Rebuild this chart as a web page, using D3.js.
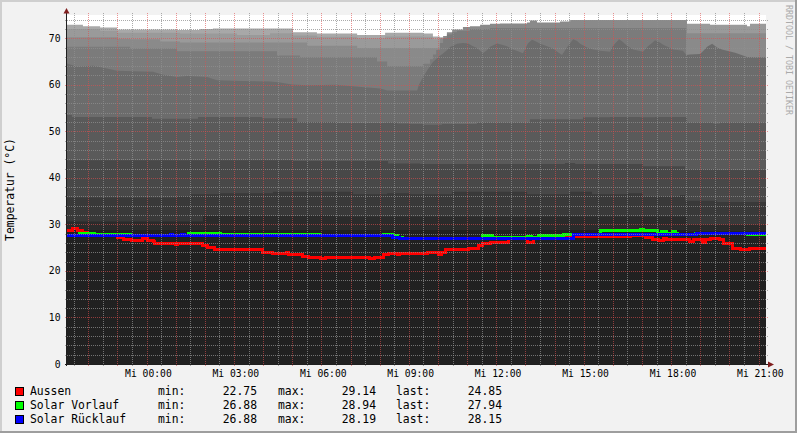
<!DOCTYPE html>
<html><head><meta charset="utf-8">
<script src="https://cdn.jsdelivr.net/npm/d3@7"></script>
<style>
body{margin:0;background:#f2f2f2;}
svg{display:block;}
text{font-family:"DejaVu Sans Mono",monospace;}
</style>
</head><body>
<svg id="chart" width="797" height="433"></svg>
<script>
// ---------- DATA (time in hours relative to Mi 00:00) ----------
const timeStart = -2.766, timeEnd = 21.22;
const xTickHours = [0, 3, 6, 9, 12, 15, 18, 21];
const xTickLabels = ["Mi 00:00","Mi 03:00","Mi 06:00","Mi 09:00","Mi 12:00","Mi 15:00","Mi 18:00","Mi 21:00"];
const yTicks = [0, 10, 20, 30, 40, 50, 60, 70];

const seriesNames = ["Aussen", "Solar Vorlauf", "Solar Rücklauf"];
const seriesColors = ["#ff0000", "#00ff00", "#0000ff"];
const seriesMin = ["22.75", "26.88", "26.88"];
const seriesMax = ["29.14", "28.94", "28.19"];
const seriesLast = ["24.85", "27.94", "28.15"];

const aussenHours = [-2.77,-2.59,-2.39,-2.22,-2.05,-1.02,-0.84,-0.54,-0.19,-0.02,0.19,0.25,0.94,1.04,1.90,2.07,2.31,2.73,3.10,3.51,3.93,4.30,4.78,4.82,5.33,5.51,5.92,6.09,6.50,7.29,7.63,7.80,8.08,8.25,8.56,8.66,9.11,9.62,9.97,10.10,10.21,10.62,11.00,11.34,11.48,11.75,12.03,12.37,13.05,13.23,13.81,14.39,15.53,16.56,17.07,17.34,17.52,17.69,17.82,18.61,18.72,19.03,19.13,19.30,19.64,19.75,20.06,20.33,20.67,21.22];
const aussenTemp  = [28.6,29.14,28.6,28.3,27.9,27.2,26.8,26.6,26.9,26.6,26.3,25.9,25.6,25.9,25.4,25.1,24.7,24.5,24.7,24.5,23.9,23.8,24.0,23.6,23.1,22.9,22.75,22.9,22.8,22.9,22.75,22.9,23.6,23.8,23.6,23.7,23.8,24.0,23.6,24.0,24.5,24.7,24.9,25.4,25.8,26.1,26.2,26.9,26.2,27.0,27.2,27.5,27.5,27.7,27.2,26.8,26.5,26.9,26.7,26.3,26.7,26.1,26.8,27.0,26.7,25.8,24.9,24.7,24.85,24.85];

const vorlaufHours = [-2.77,-2.32,-1.81,-0.60,1.39,2.31,2.49,5.92,8.08,8.42,8.56,8.76,9.18,9.52,9.93,10.72,11.48,11.85,12.78,13.05,13.19,13.40,14.26,15.53,16.21,16.90,17.00,17.17,17.48,17.65,17.82,18.00,18.10,18.20,18.79,20.57,21.22];
const vorlaufTemp  = [27.6,28.1,27.9,27.6,28.1,28.15,27.9,27.6,27.9,27.6,27.2,26.95,26.88,27.0,26.9,27.0,27.6,27.1,27.2,27.4,27.2,27.6,27.85,28.6,28.7,28.94,28.6,28.7,28.1,28.4,28.1,28.4,28.1,27.9,28.05,27.75,27.75];

const ruecklaufHours = [-2.77,0.77,0.87,1.18,1.28,8.42,8.66,8.94,11.30,12.44,14.60,18.85,21.22];
const ruecklaufTemp  = [27.6,27.8,27.6,27.8,27.6,27.2,26.95,26.88,26.95,27.0,27.75,28.15,28.15];

// background bands (top of each grey layer)
const band1Hours = [-2.77,18.51,21.22];
const band1Tops  = [28.8,28.5,28.5];
const band2Hours = [-2.77,1.90,5.47,6.43,18.51,21.22];
const band2Tops  = [30.6,31.8,31.9,31.7,29.9,29.9];
const band3Hours = [-2.77,1.01,1.46,2.49,4.30,7.05,8.22,9.01,10.45,13.02,14.50,15.25,16.49,17.00,18.27,18.44,19.54,21.22];
const band3Tops  = [35.8,36.0,36.5,36.7,37.0,36.5,36.7,36.5,37.0,36.5,37.0,36.5,36.7,36.0,36.3,35.1,34.8,34.8];
const band4Hours = [-2.77,4.99,8.25,9.35,14.32,14.67,17.00,18.44,19.47,21.22];
const band4Tops  = [43.8,43.6,43.1,43.0,43.2,43.0,42.5,41.8,41.7,41.7];
const band5Hours = [-2.77,-2.60,0.15,1.73,3.93,5.13,6.50,8.15,8.56,9.01,9.45,10.10,11.30,13.12,14.94,15.87,16.90,17.41,18.51,19.40,19.64,21.22];
const band5Tops  = [53.5,53.1,52.7,53.1,52.8,52.0,51.8,51.9,51.7,51.6,51.4,51.6,51.9,52.6,53.0,53.1,53.0,53.1,51.9,51.7,51.9,51.9];
const band6Hours = [-2.77,-2.42,-1.87,-1.39,-1.05,-0.50,0.19,0.49,1.01,1.35,2.04,2.38,3.27,4.20,4.54,4.95,5.47,6.50,6.60,7.98,8.22,9.25,9.31,9.42,9.52,9.59,9.69,9.79,9.90,9.97,10.14,10.27,10.38,10.62,10.82,11.00,11.13,11.30,11.51,11.65,11.75,11.99,12.16,12.33,12.54,12.71,12.88,13.05,13.19,13.33,13.47,13.71,13.91,14.08,14.22,14.39,14.60,14.74,14.84,15.08,15.29,15.53,15.87,15.97,16.18,16.31,16.45,16.66,17.00,17.17,17.31,17.41,17.55,17.69,17.86,18.03,18.37,18.48,18.61,18.96,19.09,19.20,19.37,19.54,19.71,19.88,20.16,20.33,20.57,20.91,21.22];
const band6Tops  = [64.6,63.9,64.1,63.5,63.0,62.9,62.8,62.2,61.7,61.9,61.7,61.0,60.8,60.7,60.5,60.05,59.9,60.0,59.9,59.2,58.8,58.8,60.0,61.3,62.3,63.1,64.0,64.9,65.5,66.0,66.7,67.4,68.1,68.8,69.0,68.9,68.4,67.9,66.8,67.5,68.2,68.9,68.6,68.3,67.6,67.2,66.8,68.9,69.7,69.3,68.8,68.3,67.8,67.0,66.4,68.0,69.8,69.4,68.8,68.0,67.6,67.3,67.1,68.4,69.8,69.2,68.4,67.6,67.1,68.3,69.0,69.6,69.2,68.6,68.1,67.6,67.3,66.4,66.5,66.6,67.4,68.2,68.8,68.0,67.6,67.3,66.9,66.5,66.0,65.9,65.9];
const band7Hours = [-2.77,-0.60,1.01,4.44,5.23,7.87,8.22,9.45,9.69,9.79,9.90,10.03,10.14,10.27,10.45,10.62,11.06,11.75,18.44,18.48,21.22];
const band7Tops  = [68.2,67.8,67.2,66.3,65.9,65.0,64.0,64.5,65.5,66.5,67.5,69.0,70.0,70.8,71.3,71.6,72.0,72.2,72.2,60,60];
const band8Hours = [-2.77,-1.05,-0.60,0.43,1.11,5.47,7.19,9.69,10.03,10.14,10.27,10.45,10.82,11.06,11.41,11.75,12.09,13.02,13.12,13.36,14.15,14.50,18.51,21.22];
const band8Tops  = [70.2,69.9,69.8,69.3,69.1,68.4,67.9,67.9,70.0,70.5,71.3,71.9,72.4,72.6,72.9,73.1,73.2,73.4,73.8,73.4,73.6,73.9,71.1,71.1];
const band9Hours = [-2.77,-1.63,-1.05,1.11,3.07,4.20,4.99,5.81,7.19,8.15,9.45,9.79,10.03,10.14,18.51,19.30,20.57,20.67,21.22];
const band9Tops  = [72.0,71.6,71.2,71.0,70.7,71.1,70.6,70.3,70.0,70.4,70.3,69.8,69.5,60,73.1,72.9,72.6,73.1,73.1];
const band10Hours = [-2.77,-2.22,-1.63,-1.05,1.01,1.80,2.24,4.99,5.81,7.19,8.15,9.45,9.79,10.03,10.14,21.22];
const band10Tops  = [72.9,72.6,72.3,71.9,71.8,72.0,72.1,71.3,71.0,70.7,71.2,71.0,70.4,70.2,60,60];

const bandColors = ["#212121","#2b2b2b","#393939","#484848","#5a5a5a","#6c6c6c","#7b7b7b","#8a8a8a","#9a9a9a","#a8a8a8"];

// ---------- CHART ----------
(function draw() {
const svg = d3.select("#chart");
const W = 797, H = 433;
const pL = 67, pR = 766, pT = 15, pB = 364;

const x = d3.scaleLinear().domain([timeStart, timeEnd]).range([pL, pR]);
const y = d3.scaleLinear().domain([0, 75]).range([pB, pT]);

// background + 3D border
svg.append("rect").attr("width", W).attr("height", H).attr("fill", "#f2f2f2");
svg.append("rect").attr("x",0).attr("y",0).attr("width",W).attr("height",2).attr("fill","#cfcfcf");
svg.append("rect").attr("x",0).attr("y",0).attr("width",2).attr("height",H).attr("fill","#cfcfcf");
svg.append("rect").attr("x",0).attr("y",H-2).attr("width",W).attr("height",2).attr("fill","#9e9e9e");
svg.append("rect").attr("x",W-2).attr("y",0).attr("width",2).attr("height",H).attr("fill","#9e9e9e");

// canvas
svg.append("rect").attr("x", pL).attr("y", pT).attr("width", pR-pL).attr("height", pB-pT).attr("fill", "#ffffff");

svg.append("defs").append("clipPath").attr("id","plotclip")
  .append("rect").attr("x", pL).attr("y", pT).attr("width", pR-pL).attr("height", pB-pT);

const plot = svg.append("g").attr("clip-path","url(#plotclip)");

const bands = [
  [band1Hours, band1Tops], [band2Hours, band2Tops], [band3Hours, band3Tops],
  [band4Hours, band4Tops], [band5Hours, band5Tops], [band6Hours, band6Tops],
  [band7Hours, band7Tops], [band8Hours, band8Tops], [band9Hours, band9Tops],
  [band10Hours, band10Tops]
];

for (let i = bands.length - 1; i >= 0; i--) {
  const [hs, vs] = bands[i];
  const pts = hs.map((h, k) => [h, vs[k]]);
  const area = d3.area()
    .x(d => x(d[0])).y0(y(0)).y1(d => y(d[1]))
    .curve(i === 5 ? d3.curveLinear : d3.curveStepAfter);
  plot.append("path").datum(pts).attr("d", area).attr("fill", bandColors[i]);
}

// grid
const grid = svg.append("g").attr("shape-rendering","crispEdges");
const minorY = d3.range(2, 76, 2).filter(v => v % 10 !== 0);
const majorY = yTicks.filter(v => v > 0);
const halfHours = d3.range(-2.5, 21.01, 0.5);
const minorX = halfHours.filter(h => Math.abs(h - Math.round(h)) > 0.01);
const majorX = halfHours.filter(h => Math.abs(h - Math.round(h)) <= 0.01);
const gridCol = "rgba(143,143,143,0.75)", mgridCol = "rgba(222,79,79,0.6)";

minorY.forEach(v => grid.append("line").attr("x1", pL-2).attr("x2", pR+2)
  .attr("y1", Math.round(y(v))+0.5).attr("y2", Math.round(y(v))+0.5)
  .attr("stroke", gridCol).attr("stroke-dasharray","1,1"));
minorX.forEach(h => grid.append("line").attr("y1", pT-2).attr("y2", pB+2)
  .attr("x1", Math.round(x(h))-0.5).attr("x2", Math.round(x(h))-0.5)
  .attr("stroke", gridCol).attr("stroke-dasharray","1,1"));
majorY.forEach(v => grid.append("line").attr("x1", pL-2).attr("x2", pR+2)
  .attr("y1", Math.round(y(v))+0.5).attr("y2", Math.round(y(v))+0.5)
  .attr("stroke", mgridCol).attr("stroke-dasharray","1,1"));
majorX.forEach(h => grid.append("line").attr("y1", pT-2).attr("y2", pB+2)
  .attr("x1", Math.round(x(h))-0.5).attr("x2", Math.round(x(h))-0.5)
  .attr("stroke", mgridCol).attr("stroke-dasharray","1,1"));

// series lines
const seriesData = [[aussenHours, aussenTemp], [vorlaufHours, vorlaufTemp], [ruecklaufHours, ruecklaufTemp]];
const line = d3.line().x(d => x(d[0])).y(d => y(d[1])).curve(d3.curveStepAfter);
seriesData.forEach(([hs, vs], i) => {
  const pts = hs.map((h, k) => [h, vs[k]]);
  plot.append("path").datum(pts).attr("d", line)
    .attr("fill","none").attr("stroke", seriesColors[i]).attr("stroke-width", 3)
    .attr("shape-rendering","crispEdges");
});

// axes
const axisCol = "#1f1f1f", arrowCol = "#801f1f";
svg.append("line").attr("x1", pL-2).attr("x2", pR+4).attr("y1", pB+0.5).attr("y2", pB+0.5)
  .attr("stroke", axisCol).attr("shape-rendering","crispEdges");
svg.append("line").attr("x1", pL-0.5).attr("x2", pL-0.5).attr("y1", pB+2).attr("y2", pT-4)
  .attr("stroke", axisCol).attr("shape-rendering","crispEdges");
svg.append("path").attr("d", `M${pL-3.5},${pT-1.5} L${pL+2.5},${pT-1.5} L${pL-0.5},${pT-7} Z`).attr("fill", arrowCol);
svg.append("path").attr("d", `M${pR+2},${pB-2.5} L${pR+2},${pB+3.5} L${pR+8},${pB+0.5} Z`).attr("fill", arrowCol);

// y tick labels
yTicks.forEach(v => svg.append("text").attr("x", 60.5).attr("y", y(v)+3.5)
  .attr("text-anchor","end").attr("font-size", "9.7px").attr("fill","#000").text(v));

// x tick labels
xTickHours.forEach((h, i) => svg.append("text").attr("x", x(h)+0.8).attr("y", 377)
  .attr("text-anchor","middle").attr("font-size","9.7px").attr("fill","#000").text(xTickLabels[i]));

// y axis title
svg.append("text").attr("transform","translate(14,189.5) rotate(-90)")
  .attr("text-anchor","middle").attr("font-size","11.4px").attr("fill","#000").text("Temperatur (°C)");

// watermark
svg.append("text").attr("transform","translate(785.5,60) rotate(90)")
  .attr("text-anchor","middle").attr("font-size","8.3px").attr("fill","#aaaaaa").text("RRDTOOL / TOBI OETIKER");

// legend
seriesNames.forEach((name, i) => {
  const by = 395 + i*13.9;
  svg.append("rect").attr("x", 15.5).attr("y", by-7.5).attr("width", 8).attr("height", 8)
    .attr("fill", seriesColors[i]).attr("stroke","#000").attr("shape-rendering","crispEdges");
  const t = (xx, txt, anchor) => svg.append("text").attr("x", xx).attr("y", by)
    .attr("text-anchor", anchor).attr("font-size","11.4px").attr("fill","#000").text(txt);
  t(30, name, "start");
  t(158, "min:", "start");
  t(257, seriesMin[i], "end");
  t(278, "max:", "start");
  t(376, seriesMax[i], "end");
  t(396, "last:", "start");
  t(502, seriesLast[i], "end");
});
})();
</script>
</body></html>
